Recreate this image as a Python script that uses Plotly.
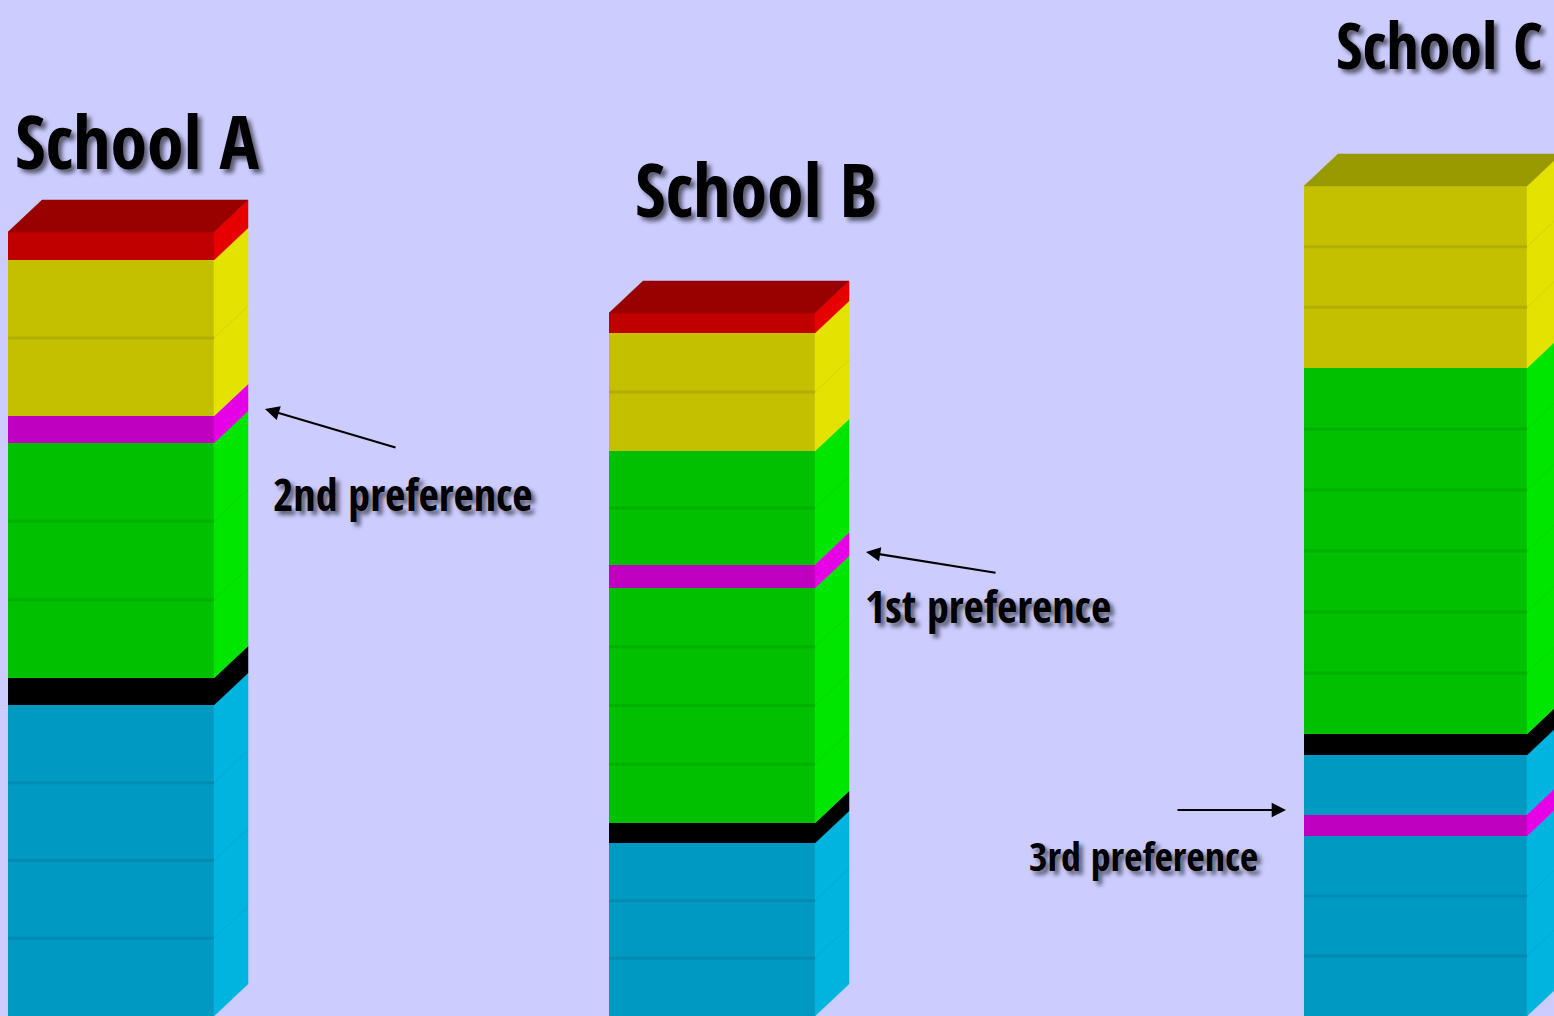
import plotly.graph_objects as go

# ---------------- data ----------------
schools = ["School A", "School B", "School C"]

# segments, bottom to top (heights in chart units; blocks = number of stacked unit blocks)
a_layers = ["blue", "black", "green", "magenta", "yellow", "red"]
a_heights = [311, 27, 235, 27, 156, 28]
a_blocks = [4, 1, 3, 1, 2, 1]

b_layers = ["blue", "black", "green", "magenta", "green", "yellow", "red"]
b_heights = [173, 20, 235, 23, 114, 118, 20]
b_blocks = [3, 1, 4, 1, 2, 2, 1]

c_layers = ["blue", "magenta", "blue", "black", "green", "yellow"]
c_heights = [180, 21, 60, 21, 366, 182]
c_blocks = [3, 1, 1, 1, 6, 3]

labels = ["2nd preference", "1st preference", "3rd preference"]

# ---------------- styles / layout ----------------
W, H = 1554, 1016
BG = "#CCCCFF"
front = {"blue": "#0099C2", "black": "#000000", "green": "#00C000",
         "magenta": "#C000C0", "yellow": "#C4C000", "red": "#C00000"}
side = {"blue": "#00B4E0", "black": "#000000", "green": "#00E600",
        "magenta": "#E600E6", "yellow": "#E4E200", "red": "#E60000"}
topc = {"blue": "#007A99", "black": "#000000", "green": "#009900",
        "magenta": "#990099", "yellow": "#999900", "red": "#990000"}
divc = {"blue": "#008CB2", "black": "#000000", "green": "#00B000",
        "magenta": "#B000B0", "yellow": "#B2AE00", "red": "#B00000"}
sdivc = {"blue": "#00A8D2", "black": "#000000", "green": "#00D800",
         "magenta": "#D800D8", "yellow": "#D6D400", "red": "#D80000"}

col_left = [8, 609, 1304]
col_width = [206, 206, 223]
DX, DY = 34, 32

columns = [(a_layers, a_heights, a_blocks),
           (b_layers, b_heights, b_blocks),
           (c_layers, c_heights, c_blocks)]

fig = go.Figure()

bars, sides, tops, divs, sdivs = {}, {}, {}, {}, {}
for ci, (layers, heights, blocks) in enumerate(columns):
    x0 = col_left[ci]
    w = col_width[ci]
    x1 = x0 + w
    base = 0
    for name, h, nb in zip(layers, heights, blocks):
        bars.setdefault(name, {"x": [], "y": [], "base": [], "width": []})
        bars[name]["x"].append(x0 + w / 2)
        bars[name]["y"].append(h)
        bars[name]["base"].append(base)
        bars[name]["width"].append(w)
        sp = sides.setdefault(name, {"x": [], "y": []})
        sp["x"] += [x1, x1 + DX, x1 + DX, x1, x1, None]
        sp["y"] += [base, base + DY, base + h + DY, base + h, base, None]
        for k in range(1, nb):
            yb = base + h * k / nb
            d = divs.setdefault(name, {"x": [], "y": []})
            d["x"] += [x0, x1, None]
            d["y"] += [yb, yb, None]
            s = sdivs.setdefault(name, {"x": [], "y": []})
            s["x"] += [x1, x1 + DX, None]
            s["y"] += [yb, yb + DY, None]
        base += h
    tname = layers[-1]
    tp = tops.setdefault(tname, {"x": [], "y": []})
    tp["x"] += [x0, x0 + DX, x1 + DX, x1, x0, None]
    tp["y"] += [base, base + DY, base + DY, base, base, None]

for name, d in bars.items():
    fig.add_trace(go.Bar(x=d["x"], y=d["y"], base=d["base"], width=d["width"],
                         marker=dict(color=front[name], line=dict(width=0)),
                         hoverinfo="skip", showlegend=False))
for name, d in sides.items():
    fig.add_trace(go.Scatter(x=d["x"], y=d["y"], mode="lines", fill="toself",
                             fillcolor=side[name], line=dict(width=0.5, color=side[name]),
                             hoverinfo="skip", showlegend=False))
for name, d in tops.items():
    fig.add_trace(go.Scatter(x=d["x"], y=d["y"], mode="lines", fill="toself",
                             fillcolor=topc[name], line=dict(width=0.5, color=topc[name]),
                             hoverinfo="skip", showlegend=False))
for name, d in divs.items():
    fig.add_trace(go.Scatter(x=d["x"], y=d["y"], mode="lines",
                             line=dict(width=3, color=divc[name]),
                             hoverinfo="skip", showlegend=False))
for name, d in sdivs.items():
    fig.add_trace(go.Scatter(x=d["x"], y=d["y"], mode="lines",
                             line=dict(width=1, color=sdivc[name]),
                             hoverinfo="skip", showlegend=False))

FONT = "Open Sans Condensed, Roboto Condensed, Liberation Sans, sans-serif"
SHADOW = "4px 4px 4px rgba(0,0,0,0.55)"

def tfont(size):
    return dict(family=FONT, size=size, color="#000000", weight=800, shadow=SHADOW)

annotations = [
    dict(x=137, y=H - 140, text=schools[0], font=tfont(74)),
    dict(x=756, y=H - 188, text=schools[1], font=tfont(74)),
    dict(x=1545, y=H - 44, text=schools[2], font=tfont(64), xanchor="right"),
    dict(x=403, y=H - 494, text=labels[0], font=tfont(44)),
    dict(x=988, y=H - 606, text=labels[1], font=tfont(44)),
    dict(x=1143, y=H - 855, text=labels[2], font=tfont(40)),
]
for a in annotations:
    a.setdefault("xanchor", "center")
    a.update(xref="x", yref="y", yanchor="middle", showarrow=False)

arrows = [((397, 448), (265, 409)), ((997, 573), (866, 552)), ((1176, 810), (1286, 810))]
for (tx, ty), (hx, hy) in arrows:
    annotations.append(dict(x=hx, y=H - hy, ax=tx, ay=H - ty, xref="x", yref="y",
                            axref="x", ayref="y", text="", showarrow=True,
                            arrowhead=2, arrowsize=1.3, arrowwidth=2.2,
                            arrowcolor="#000000"))

fig.update_layout(
    width=W, height=H,
    margin=dict(l=0, r=0, t=0, b=0),
    paper_bgcolor=BG, plot_bgcolor=BG,
    barmode="overlay", bargap=0,
    xaxis=dict(range=[0, W], visible=False, fixedrange=True),
    yaxis=dict(range=[0, H], visible=False, fixedrange=True),
    annotations=annotations,
    showlegend=False,
)

post = """
document.body.style.margin = '0px';
document.body.style.overflow = 'hidden';
"""
fig.write_html("out.html", config={"displayModeBar": False}, post_script=post)
